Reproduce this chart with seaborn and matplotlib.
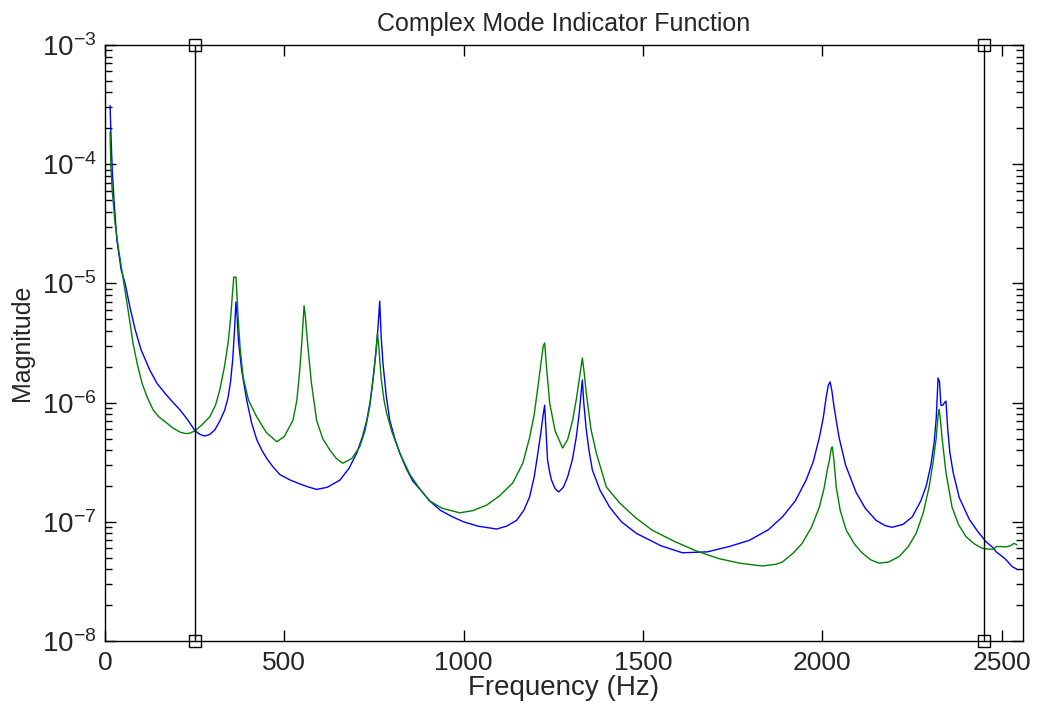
import numpy as np
import pandas as pd
import matplotlib
matplotlib.use('Agg')
import matplotlib.pyplot as plt
import seaborn as sns
from matplotlib.ticker import LogLocator, LogFormatterSciNotation, FixedLocator

# CMIF curves (Hz, magnitude)
blue_f = [14, 17, 20, 25, 33, 45, 56, 70, 84, 100,
          125, 145, 167, 190, 209, 230, 251, 265, 278, 292,
          306, 320, 334, 343, 350, 356, 361, 365, 368, 372,
          381, 395, 409, 423, 437, 451, 468, 487, 515, 543,
          565, 590, 620, 655, 680, 702, 718, 730, 740, 747,
          755, 761, 766, 770, 775, 784, 794, 808, 822, 840,
          858, 880, 905, 935, 969, 1000, 1040, 1092, 1120, 1148,
          1168, 1184, 1197, 1207, 1216, 1222, 1226, 1230, 1234, 1240,
          1245, 1255, 1265, 1278, 1290, 1303, 1314, 1322, 1328, 1331,
          1335, 1342, 1350, 1359, 1380, 1407, 1440, 1482, 1550, 1610,
          1680, 1740, 1797, 1850, 1889, 1925, 1955, 1975, 1992, 2003,
          2011, 2017, 2022, 2027, 2033, 2040, 2047, 2065, 2095, 2120,
          2150, 2175, 2195, 2225, 2251, 2275, 2290, 2303, 2312, 2318,
          2321, 2323, 2327, 2331, 2336, 2341, 2345, 2350, 2356, 2365,
          2382, 2410, 2435, 2457, 2478, 2485, 2510, 2530, 2543]
blue_m = [3.1e-4, 1.6e-4, 9.0e-5, 5.0e-5, 2.3e-5, 1.3e-5, 1.0e-5, 6.2e-6, 4.1e-6, 2.8e-6,
          1.87e-6, 1.45e-6, 1.2e-6, 1.0e-6, 8.7e-7, 7.2e-7, 5.8e-7, 5.4e-7, 5.25e-7, 5.4e-7,
          5.9e-7, 7.0e-7, 8.7e-7, 1.1e-6, 1.5e-6, 2.3e-6, 4.0e-6, 7.0e-6, 5.5e-6, 3.3e-6,
          1.87e-6, 1.05e-6, 6.7e-7, 4.9e-7, 4.0e-7, 3.4e-7, 2.9e-7, 2.5e-7, 2.25e-7, 2.08e-7,
          1.97e-7, 1.87e-7, 1.95e-7, 2.24e-7, 2.8e-7, 3.77e-7, 5.2e-7, 7.1e-7, 1.05e-6, 1.55e-6,
          2.6e-6, 4.2e-6, 7.1e-6, 3.6e-6, 2.15e-6, 1.15e-6, 7.1e-7, 5.0e-7, 3.77e-7, 2.8e-7,
          2.2e-7, 1.85e-7, 1.5e-7, 1.25e-7, 1.1e-7, 1.0e-7, 9.2e-8, 8.7e-8, 9.2e-8, 1.03e-7,
          1.25e-7, 1.62e-7, 2.4e-7, 3.77e-7, 5.8e-7, 8.0e-7, 9.5e-7, 5.5e-7, 3.3e-7, 2.6e-7,
          2.24e-7, 1.9e-7, 1.78e-7, 1.95e-7, 2.38e-7, 3.3e-7, 5.1e-7, 8.0e-7, 1.25e-6, 1.55e-6,
          1.0e-6, 5.9e-7, 3.9e-7, 2.72e-7, 1.85e-7, 1.33e-7, 1.0e-7, 8.0e-8, 6.3e-8, 5.5e-8,
          5.6e-8, 6.2e-8, 7.0e-8, 8.6e-8, 1.1e-7, 1.5e-7, 2.24e-7, 3.2e-7, 5.1e-7, 7.5e-7,
          1.11e-6, 1.4e-6, 1.49e-6, 1.25e-6, 9.2e-7, 6.8e-7, 5.1e-7, 3.0e-7, 1.75e-7, 1.3e-7,
          1.03e-7, 9.3e-8, 9.0e-8, 9.5e-8, 1.1e-7, 1.5e-7, 2.0e-7, 3.0e-7, 4.6e-7, 7.5e-7,
          1.2e-6, 1.61e-6, 1.5e-6, 9.5e-7, 9.5e-7, 1.0e-6, 1.03e-6, 6.0e-7, 3.8e-7, 2.6e-7,
          1.6e-7, 1.05e-7, 8.2e-8, 6.8e-8, 6.0e-8, 5.6e-8, 4.9e-8, 4.2e-8, 4.0e-8]

green_f = [14, 16, 20, 28, 37, 47, 61, 70, 78, 90,
           103, 118, 134, 150, 172, 190, 209, 225, 237, 251,
           270, 292, 308, 320, 333, 343, 350, 355, 359, 365,
           368, 371, 377, 385, 400, 423, 450, 479, 500, 524,
           535, 543, 549, 555, 558, 562, 566, 575, 590, 607,
           627, 645, 663, 688, 710, 725, 738, 748, 755, 760,
           764, 770, 778, 785, 800, 822, 850, 877, 905, 940,
           989, 1025, 1064, 1100, 1137, 1165, 1184, 1197, 1207, 1216,
           1222, 1226, 1231, 1240, 1255, 1276, 1290, 1304, 1315, 1324,
           1331, 1336, 1342, 1355, 1370, 1398, 1435, 1480, 1526, 1590,
           1649, 1713, 1770, 1833, 1870, 1889, 1920, 1944, 1970, 1992,
           2005, 2014, 2020, 2025, 2028, 2033, 2039, 2050, 2067, 2090,
           2111, 2135, 2159, 2185, 2214, 2240, 2262, 2282, 2298, 2310,
           2318, 2323, 2326, 2330, 2334, 2345, 2362, 2380, 2401, 2425,
           2446, 2465, 2479, 2485, 2500, 2512, 2525, 2535, 2543]
green_m = [1.86e-4, 1.0e-4, 6.0e-5, 3.2e-5, 2.0e-5, 1.29e-5, 6.9e-6, 4.6e-6, 3.16e-6, 2.1e-6,
           1.46e-6, 1.1e-6, 8.7e-7, 7.6e-7, 6.75e-7, 6.1e-7, 5.66e-7, 5.5e-7, 5.55e-7, 5.8e-7,
           6.5e-7, 7.6e-7, 9.5e-7, 1.28e-6, 2.0e-6, 3.16e-6, 5.0e-6, 8.0e-6, 1.13e-5, 1.13e-5,
           8.0e-6, 5.2e-6, 2.8e-6, 1.64e-6, 1.05e-6, 7.6e-7, 5.6e-7, 4.7e-7, 5.2e-7, 7.1e-7,
           1.05e-6, 1.87e-6, 3.3e-6, 6.5e-6, 5.5e-6, 4.0e-6, 2.9e-6, 1.5e-6, 7.1e-7, 5.0e-7,
           4.0e-7, 3.4e-7, 3.1e-7, 3.4e-7, 4.25e-7, 5.8e-7, 9.2e-7, 1.6e-6, 2.6e-6, 3.8e-6,
           2.8e-6, 1.6e-6, 1.05e-6, 8.2e-7, 5.7e-7, 3.77e-7, 2.5e-7, 1.9e-7, 1.5e-7, 1.3e-7,
           1.19e-7, 1.24e-7, 1.38e-7, 1.65e-7, 2.12e-7, 3.1e-7, 5.1e-7, 8.0e-7, 1.35e-6, 2.2e-6,
           3.0e-6, 3.16e-6, 2.0e-6, 9.9e-7, 5.8e-7, 4.16e-7, 4.9e-7, 7.1e-7, 1.1e-6, 1.7e-6,
           2.37e-6, 1.8e-6, 1.2e-6, 6.0e-7, 3.77e-7, 1.96e-7, 1.44e-7, 1.08e-7, 8.5e-8, 6.8e-8,
           5.7e-8, 4.9e-8, 4.5e-8, 4.26e-8, 4.4e-8, 4.6e-8, 5.5e-8, 6.6e-8, 9.0e-8, 1.33e-7,
           1.9e-7, 2.72e-7, 3.3e-7, 4.1e-7, 4.25e-7, 3.2e-7, 1.96e-7, 1.25e-7, 8.5e-8, 6.5e-8,
           5.5e-8, 4.8e-8, 4.5e-8, 4.6e-8, 5.1e-8, 6.2e-8, 8.0e-8, 1.2e-7, 1.96e-7, 3.3e-7,
           5.1e-7, 7.8e-7, 8.8e-7, 7.0e-7, 5.1e-7, 2.6e-7, 1.33e-7, 9.5e-8, 7.5e-8, 6.5e-8,
           6.0e-8, 5.9e-8, 5.9e-8, 6.2e-8, 6.2e-8, 6.15e-8, 6.3e-8, 6.6e-8, 6.4e-8]

# frequency band cursors
cursor_f = [250, 2450]
y_lim = [1e-8, 1e-3]
x_lim = [0, 2560]
x_ticks = [0, 500, 1000, 1500, 2000, 2500]

df = pd.concat([
    pd.DataFrame({'Frequency': blue_f, 'Magnitude': blue_m, 'curve': 'CMIF 1'}),
    pd.DataFrame({'Frequency': green_f, 'Magnitude': green_m, 'curve': 'CMIF 2'}),
], ignore_index=True)

sns.set_theme(style='white')
plt.rcParams['font.family'] = ['Liberation Sans', 'DejaVu Sans']
plt.rcParams['mathtext.default'] = 'regular'

fig = plt.figure(figsize=(10.4, 7.08), dpi=100)
ax = fig.add_axes([0.101, 0.0946, 0.8827, 0.8418])

sns.lineplot(data=df, x='Frequency', y='Magnitude', hue='curve',
             palette={'CMIF 1': '#0000ff', 'CMIF 2': '#008000'},
             estimator=None, sort=False, linewidth=1.0, legend=False, ax=ax)

for f in cursor_f:
    ax.plot([f, f], y_lim, color='black', linewidth=1.0, marker='s',
            markersize=8, markerfacecolor='none', markeredgecolor='black',
            markeredgewidth=1.0, clip_on=False, zorder=5)

ax.set_yscale('log')
ax.set_xlim(x_lim)
ax.set_ylim(y_lim)
ax.xaxis.set_major_locator(FixedLocator(x_ticks))
ax.yaxis.set_major_locator(LogLocator(base=10, numticks=10))
ax.yaxis.set_minor_locator(LogLocator(base=10, subs=np.arange(2, 10), numticks=20))
ax.yaxis.set_major_formatter(LogFormatterSciNotation())

for s in ax.spines.values():
    s.set_color('black')
    s.set_linewidth(1.0)
ax.tick_params(which='both', direction='in', top=True, right=True,
               left=True, bottom=True, color='black', width=1.0)
ax.tick_params(which='major', length=8)
ax.tick_params(axis='x', which='major', pad=7, labelsize=19)
ax.tick_params(axis='y', which='major', pad=6, labelsize=20)
ax.tick_params(which='minor', length=5)
ax.tick_params(axis='x', which='minor', length=0)

ax.set_title('Complex Mode Indicator Function', fontsize=18, pad=10)
ax.set_xlabel('Frequency (Hz)', fontsize=20, labelpad=0)
ax.set_ylabel('Magnitude', fontsize=18, labelpad=6)
ax.grid(False)

fig.savefig('out.png', dpi=100, facecolor='white')
